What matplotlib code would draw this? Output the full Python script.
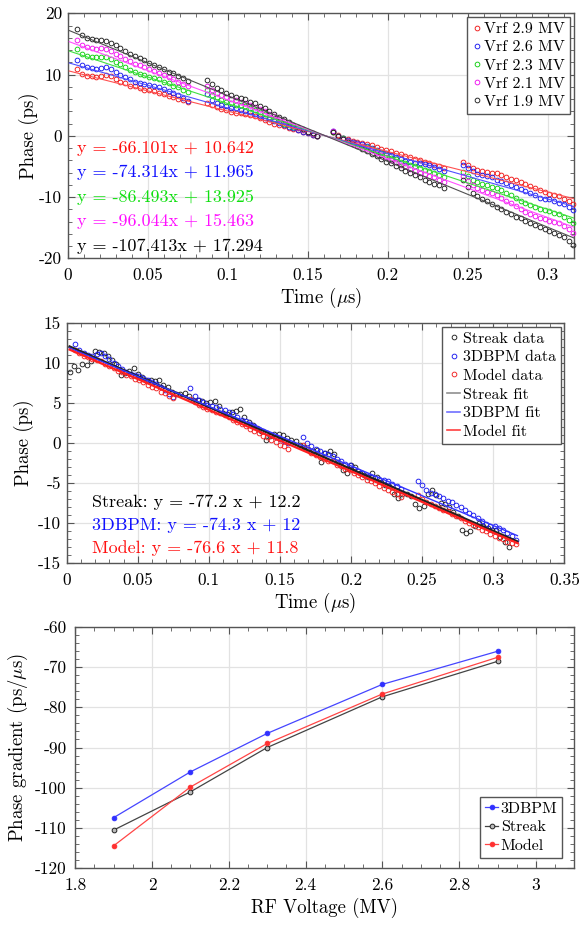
import matplotlib
matplotlib.use("Agg")
import matplotlib.pyplot as plt
import numpy as np
from matplotlib.ticker import MultipleLocator, FormatStrFormatter

# ---------------------------------------------------------------- data
# sample times (us) of the phase measurements, four acquisition segments
T_SEG = [
    0.006, 0.009, 0.012, 0.015, 0.018, 0.021, 0.024, 0.027, 0.030, 0.033, 0.036, 0.039,
    0.042, 0.045, 0.048, 0.051, 0.054, 0.057, 0.060, 0.063, 0.066, 0.069, 0.072, 0.075,
    0.087, 0.090, 0.093, 0.096, 0.099, 0.102, 0.105, 0.108, 0.111, 0.114, 0.117, 0.120,
    0.123, 0.126, 0.129, 0.132, 0.135, 0.138, 0.141, 0.144, 0.147, 0.150, 0.153, 0.156,
    0.166, 0.169, 0.172, 0.175, 0.178, 0.181, 0.184, 0.187, 0.190, 0.193, 0.196, 0.199,
    0.202, 0.205, 0.208, 0.211, 0.214, 0.217, 0.220, 0.223, 0.226, 0.229, 0.232, 0.235,
    0.247, 0.250, 0.253, 0.256, 0.259, 0.262, 0.265, 0.268, 0.271, 0.274, 0.277, 0.280,
    0.283, 0.286, 0.289, 0.292, 0.295, 0.298, 0.301, 0.304, 0.307, 0.310, 0.313, 0.316,
]

PHASE_29 = [
    10.9, 10.1, 9.8, 9.8, 9.6, 9.7, 9.9, 9.7, 9.3, 8.8, 8.6, 8.2, 8.1, 7.8, 7.5, 7.4, 7.3, 7.0, 6.8, 6.5, 6.3, 6.0, 5.8, 5.5,
    5.4, 5.0, 4.7, 4.4, 4.2, 3.9, 3.8, 3.7, 3.6, 3.4, 3.2, 2.9, 2.6, 2.3, 2.0, 1.8, 1.6, 1.3, 1.1, 0.9, 0.6, 0.4, 0.2, -0.1,
    0.7, 0.1, -0.3, -0.6, -0.8, -1.0, -1.2, -1.3, -1.5, -1.8, -2.1, -2.3, -2.5, -2.8, -3.0, -3.3, -3.5, -3.8, -4.0, -4.2, -4.5, -4.7, -4.9, -5.2,
    -4.3, -4.8, -5.3, -5.6, -5.8, -5.9, -6.0, -6.1, -6.4, -6.7, -7.0, -7.3, -7.6, -7.9, -8.2, -8.6, -8.9, -9.2, -9.5, -9.7, -9.9, -10.3, -10.6, -11.1,
]
PHASE_26 = [
    12.4, 11.6, 11.2, 11.0, 10.9, 11.1, 11.2, 10.9, 10.5, 10.0, 9.6, 9.2, 8.8, 8.6, 8.5, 8.3, 8.1, 7.9, 7.6, 7.3, 7.0, 6.6, 6.1, 5.7,
    6.8, 5.9, 5.4, 5.1, 4.8, 4.6, 4.5, 4.2, 4.1, 3.9, 3.6, 3.2, 2.9, 2.7, 2.4, 2.1, 1.8, 1.5, 1.3, 1.0, 0.7, 0.5, 0.2, 0.0,
    0.8, 0.0, -0.4, -0.7, -1.0, -1.2, -1.4, -1.6, -2.0, -2.3, -2.6, -2.8, -3.2, -3.5, -3.8, -4.1, -4.2, -4.4, -4.5, -4.6, -4.8, -5.1, -5.4, -5.7,
    -4.8, -5.3, -5.8, -6.2, -6.4, -6.6, -6.8, -7.2, -7.4, -7.7, -8.0, -8.3, -8.7, -9.0, -9.3, -9.7, -10.1, -10.3, -10.4, -10.6, -10.9, -11.2, -11.6, -12.1,
]
PHASE_23 = [
    14.2, 13.4, 13.1, 12.9, 12.8, 12.9, 12.8, 12.6, 12.1, 11.7, 11.2, 10.8, 10.4, 10.1, 9.9, 9.6, 9.5, 9.2, 8.8, 8.6, 8.2, 7.9, 7.5, 7.1,
    7.4, 6.7, 6.3, 5.9, 5.6, 5.3, 5.1, 5.0, 4.8, 4.6, 4.2, 3.9, 3.5, 3.1, 2.8, 2.4, 2.0, 1.8, 1.4, 1.2, 0.9, 0.6, 0.3, -0.1,
    0.7, 0.0, -0.4, -0.8, -1.1, -1.3, -1.6, -1.8, -2.1, -2.5, -2.8, -3.2, -3.6, -3.8, -4.2, -4.5, -4.8, -5.0, -5.2, -5.6, -5.8, -6.1, -6.4, -6.7,
    -5.9, -6.6, -7.2, -7.6, -7.9, -8.1, -8.3, -8.6, -8.9, -9.3, -9.7, -10.2, -10.6, -10.9, -11.3, -11.6, -11.9, -12.1, -12.3, -12.6, -12.8, -13.2, -13.7, -14.3,
]
PHASE_21 = [
    15.7, 14.9, 14.5, 14.3, 14.1, 14.3, 14.2, 13.8, 13.4, 13.0, 12.6, 12.2, 11.8, 11.5, 11.2, 10.9, 10.6, 10.3, 9.9, 9.6, 9.2, 8.8, 8.4, 8.1,
    8.1, 7.5, 7.0, 6.6, 6.3, 6.0, 5.8, 5.6, 5.4, 5.1, 4.7, 4.3, 4.0, 3.6, 3.2, 2.8, 2.4, 2.0, 1.6, 1.3, 0.9, 0.7, 0.3, 0.0,
    0.8, 0.0, -0.5, -0.8, -1.1, -1.4, -1.7, -2.0, -2.4, -2.8, -3.2, -3.5, -3.9, -4.3, -4.7, -5.0, -5.4, -5.7, -6.0, -6.2, -6.5, -6.8, -7.2, -7.5,
    -6.6, -7.4, -8.0, -8.5, -8.8, -9.1, -9.3, -9.6, -10.1, -10.6, -11.0, -11.5, -12.0, -12.4, -12.7, -13.1, -13.4, -13.6, -13.9, -14.0, -14.3, -14.7, -15.3, -15.9,
]
PHASE_19 = [
    17.4, 16.5, 16.0, 15.8, 15.7, 15.6, 15.5, 15.2, 14.8, 14.3, 13.8, 13.4, 13.1, 12.7, 12.3, 11.9, 11.6, 11.3, 10.9, 10.5, 10.2, 9.8, 9.5, 9.0,
    9.1, 8.4, 7.8, 7.4, 7.0, 6.6, 6.4, 6.2, 6.0, 5.6, 5.3, 4.9, 4.5, 4.1, 3.6, 3.1, 2.7, 2.3, 1.8, 1.5, 1.1, 0.7, 0.4, -0.1,
    0.7, -0.1, -0.6, -1.0, -1.3, -1.7, -2.1, -2.5, -2.9, -3.3, -3.8, -4.2, -4.5, -4.9, -5.3, -5.7, -6.0, -6.4, -6.7, -7.2, -7.5, -7.8, -8.1, -8.5,
    -7.3, -8.4, -9.3, -9.9, -10.3, -10.7, -11.2, -11.6, -12.0, -12.4, -12.8, -13.2, -13.5, -13.9, -14.2, -14.6, -14.9, -15.2, -15.5, -15.9, -16.2, -16.6, -17.2, -17.8,
]

VRF_LABELS = ["Vrf 2.9 MV", "Vrf 2.6 MV", "Vrf 2.3 MV", "Vrf 2.1 MV", "Vrf 1.9 MV"]
VRF_SLOPE = [-66.101, -74.314, -86.493, -96.044, -107.413]
VRF_OFFSET = [10.642, 11.965, 13.925, 15.463, 17.294]

# streak camera data (continuous sampling)
T_STREAK = [
    0.002, 0.005, 0.008, 0.011, 0.014, 0.017, 0.020, 0.023, 0.026, 0.029,
    0.032, 0.035, 0.038, 0.041, 0.044, 0.047, 0.050, 0.053, 0.056, 0.059,
    0.062, 0.065, 0.068, 0.071, 0.074, 0.077, 0.080, 0.083, 0.086, 0.089,
    0.092, 0.095, 0.098, 0.101, 0.104, 0.107, 0.110, 0.113, 0.116, 0.119,
    0.122, 0.125, 0.128, 0.131, 0.134, 0.137, 0.140, 0.143, 0.146, 0.149,
    0.152, 0.155, 0.158, 0.161, 0.164, 0.167, 0.170, 0.173, 0.176, 0.179,
    0.182, 0.185, 0.188, 0.191, 0.194, 0.197, 0.200, 0.203, 0.206, 0.209,
    0.212, 0.215, 0.218, 0.221, 0.224, 0.227, 0.230, 0.233, 0.236, 0.239,
    0.242, 0.245, 0.248, 0.251, 0.254, 0.257, 0.260, 0.263, 0.266, 0.269,
    0.272, 0.275, 0.278, 0.281, 0.284, 0.287, 0.290, 0.293, 0.296, 0.299,
    0.302, 0.305, 0.308, 0.311,
]
PHASE_STREAK = [
    8.8, 9.6, 9.1, 9.8, 9.7, 10.2, 11.5, 11.3, 11.2, 10.8,
    10.3, 9.9, 8.5, 8.7, 9.0, 9.3, 8.6, 8.2, 7.9, 7.9,
    7.7, 7.8, 7.2, 7.0, 6.4, 6.1, 6.1, 6.2, 5.8, 5.4,
    5.3, 5.2, 5.0, 5.1, 5.2, 4.6, 3.7, 3.6, 3.9, 4.0,
    4.2, 3.3, 2.6, 2.2, 1.9, 1.5, 0.4, 0.9, 1.1, 1.1,
    1.0, 0.6, 0.4, 0.2, -0.2, -0.5, -0.7, -1.0, -0.9, -2.4,
    -1.3, -1.0, -1.4, -2.4, -3.4, -3.7, -2.8, -3.0, -3.8, -4.0,
    -4.2, -3.8, -4.3, -4.9, -5.2, -5.4, -6.3, -6.8, -6.4, -6.4,
    -6.6, -7.6, -8.1, -7.8, -6.3, -5.9, -6.5, -7.5, -7.6, -8.0,
    -8.6, -9.1, -10.9, -11.2, -11.0, -10.3, -10.0, -10.4, -10.6, -10.8,
    -10.9, -11.7, -12.3, -13.0,
]
# 3DBPM data at 2.6 MV is the same measurement as PHASE_26
PHASE_MODEL = [
    11.6, 11.2, 10.9, 10.7, 10.5, 10.3, 10.2, 9.9, 9.6, 9.4, 9.0, 8.8, 8.5, 8.3, 8.0, 7.8, 7.6, 7.2, 7.0, 6.8, 6.4, 6.2, 5.9, 5.6,
    5.5, 5.1, 4.8, 4.5, 4.3, 4.1, 3.9, 3.7, 3.5, 3.2, 2.9, 2.6, 2.4, 2.1, 1.8, 1.5, 1.3, 0.9, 0.7, 0.4, 0.1, -0.2, -0.4, -0.7,
    -0.2, -0.8, -1.2, -1.5, -1.7, -2.0, -2.2, -2.3, -2.7, -2.9, -3.2, -3.4, -3.8, -4.0, -4.2, -4.6, -4.8, -5.0, -5.4, -5.6, -5.8, -6.1, -6.4, -6.7,
    -6.5, -7.0, -7.3, -7.6, -7.8, -8.1, -8.3, -8.5, -8.9, -9.1, -9.4, -9.7, -10.0, -10.2, -10.5, -10.8, -11.0, -11.3, -11.6, -11.8, -12.0, -12.3, -12.5, -12.6,
]
FIT_NAMES = ["Streak", "3DBPM", "Model"]
FIT_SLOPE = [-77.2, -74.3, -76.6]
FIT_OFFSET = [12.2, 12.0, 11.8]

# phase gradient vs RF voltage
RF_VOLT = [1.9, 2.1, 2.3, 2.6, 2.9]
GRAD_3DBPM = [-107.413, -96.044, -86.493, -74.314, -66.101]
GRAD_STREAK = [-110.5, -101.0, -90.0, -77.4, -68.6]
GRAD_MODEL = [-114.4, -99.8, -89.0, -76.7, -67.6]

# ---------------------------------------------------------------- style
plt.rcParams.update({
    "font.family": "cmr10",
    "mathtext.fontset": "cm",
    "axes.unicode_minus": False,
    "axes.formatter.use_mathtext": False,
    "font.size": 12.5,
    "axes.labelsize": 13.5,
    "legend.fontsize": 11.5,
})

DOT_COL = ["#f01818", "#1818f0", "#10d010", "#f010f0", "#202020"]
LINE_COL = ["#ff5050", "#5050ff", "#40e040", "#ff50ff", "#505050"]
TXT_COL = ["#ff1010", "#1010ff", "#10e010", "#ff10ff", "#000000"]


def style_axes(ax, xmaj, xmin, ymaj, ymin, ypad=4):
    ax.xaxis.set_major_locator(MultipleLocator(xmaj))
    ax.xaxis.set_minor_locator(MultipleLocator(xmin))
    ax.yaxis.set_major_locator(MultipleLocator(ymaj))
    ax.yaxis.set_minor_locator(MultipleLocator(ymin))
    ax.xaxis.set_major_formatter(FormatStrFormatter("%g"))
    ax.yaxis.set_major_formatter(FormatStrFormatter("%g"))
    ax.tick_params(which="both", direction="in", top=True, right=True, color="#555555")
    ax.tick_params(which="major", length=5, width=0.8)
    ax.tick_params(which="minor", length=2.6, width=0.6)
    ax.tick_params(axis="x", pad=7)
    ax.tick_params(axis="y", pad=ypad)
    ax.grid(True, which="major", color="#e2e2e2", lw=0.9)
    ax.set_axisbelow(True)
    for sp in ax.spines.values():
        sp.set_color("#555555")
        sp.set_linewidth(1.0)


def legend(ax, anchor, loc, handlelength, spacing=0.22):
    return ax.legend(loc=loc, bbox_to_anchor=anchor, borderaxespad=0,
                     handlelength=handlelength, handletextpad=0.15,
                     fancybox=False, edgecolor="#555555", framealpha=1,
                     borderpad=0.3, labelspacing=spacing)


fig = plt.figure(figsize=(5.81, 9.26), dpi=100)

# ---------------------------------------------------------------- top panel
ax1 = fig.add_axes([0.1165, 0.7211, 0.872, 0.2645])
series = [PHASE_29, PHASE_26, PHASE_23, PHASE_21, PHASE_19]
for ph, col, lab in zip(series, DOT_COL, VRF_LABELS):
    ax1.plot(T_SEG, ph, ls="none", marker="o", ms=3.4, mfc="none", mec=col,
             mew=0.65, label=lab, clip_on=False, zorder=3)
fit_t = np.array([0.001, 0.3166])
for a, b, col in zip(VRF_SLOPE, VRF_OFFSET, LINE_COL):
    ax1.plot(fit_t, np.polyval([a, b], fit_t), color=col, lw=0.8, zorder=4)
for i, (a, b, col) in enumerate(zip(VRF_SLOPE, VRF_OFFSET, TXT_COL)):
    ax1.text(0.0184, 0.450 - 0.1 * i, f"y = {a:.3f}x + {b:.3f}", color=col,
             fontsize=13, transform=ax1.transAxes, va="center", ha="left")
ax1.set_xlim(0, 0.3166)
ax1.set_ylim(-20, 20)
style_axes(ax1, 0.05, 0.01, 10, 2)
ax1.set_xlabel(r"Time ($\mu$s)", labelpad=2)
ax1.set_ylabel("Phase (ps)", labelpad=0)
legend(ax1, (0.9915, 0.9837), "upper right", 0.6, 0.25)

# ---------------------------------------------------------------- middle panel
ax2 = fig.add_axes([0.1148, 0.3917, 0.8565, 0.2598])
ax2.plot(T_STREAK, PHASE_STREAK, ls="none", marker="o", ms=3.4, mfc="none",
         mec="#202020", mew=0.65, label="Streak data", zorder=3)
ax2.plot(T_SEG, PHASE_26, ls="none", marker="o", ms=3.4, mfc="none",
         mec="#1818f0", mew=0.65, label="3DBPM data", zorder=3)
ax2.plot(T_SEG, PHASE_MODEL, ls="none", marker="o", ms=3.4, mfc="none",
         mec="#f02020", mew=0.65, label="Model data", zorder=3)
fit_t2 = np.array([0.002, 0.317])
fit_style = [("#222222", 1.6, "#909090"), ("#3535ff", 1.0, "#7070ff"),
             ("#ff2020", 1.6, "#ff4040")]
for name, a, b, (col, lw, lcol) in zip(FIT_NAMES, FIT_SLOPE, FIT_OFFSET, fit_style):
    ax2.plot(fit_t2, np.polyval([a, b], fit_t2), color=col, lw=lw, zorder=4)
    ax2.plot([], [], color=lcol, lw=1.2, label=f"{name} fit")
for i, (name, a, b, col) in enumerate(zip(FIT_NAMES, FIT_SLOPE, FIT_OFFSET,
                                          ["#000000", "#1010ff", "#ff1010"])):
    ax2.text(0.0502, 0.2548 - 0.0956 * i, f"{name}: y = {a:g} x + {b:g}",
             color=col, fontsize=13, transform=ax2.transAxes, va="center", ha="left")
ax2.set_xlim(0, 0.35)
ax2.set_ylim(-15, 15)
style_axes(ax2, 0.05, 0.01, 5, 1)
ax2.set_xlabel(r"Time ($\mu$s)", labelpad=2)
ax2.set_ylabel("Phase (ps)", labelpad=3)
legend(ax2, (0.9928, 0.9834), "upper right", 0.85, 0.28)

# ---------------------------------------------------------------- bottom panel
ax3 = fig.add_axes([0.1296, 0.0623, 0.8589, 0.2609])
ax3.plot(RF_VOLT, GRAD_3DBPM, color="#4545ff", lw=0.9, marker="o", ms=3.4,
         mfc="#3030ff", mec="#3030ff", mew=0.6, label="3DBPM")
ax3.plot(RF_VOLT, GRAD_STREAK, color="#444444", lw=0.9, marker="o", ms=3.4,
         mfc="#bbbbbb", mec="#222222", mew=0.7, label="Streak")
ax3.plot(RF_VOLT, GRAD_MODEL, color="#ff4545", lw=0.9, marker="o", ms=3.4,
         mfc="#ff3030", mec="#ff3030", mew=0.6, label="Model")
ax3.set_xlim(1.8, 3.1)
ax3.set_ylim(-120, -60)
style_axes(ax3, 0.2, 0.05, 10, 2, ypad=6)
ax3.set_xlabel("RF Voltage (MV)", labelpad=3)
ax3.set_ylabel(r"Phase gradient (ps/$\mu$s)", labelpad=4)
legend(ax3, (0.976, 0.044), "lower right", 0.85, 0.28)

fig.savefig("out.png", dpi=100)
